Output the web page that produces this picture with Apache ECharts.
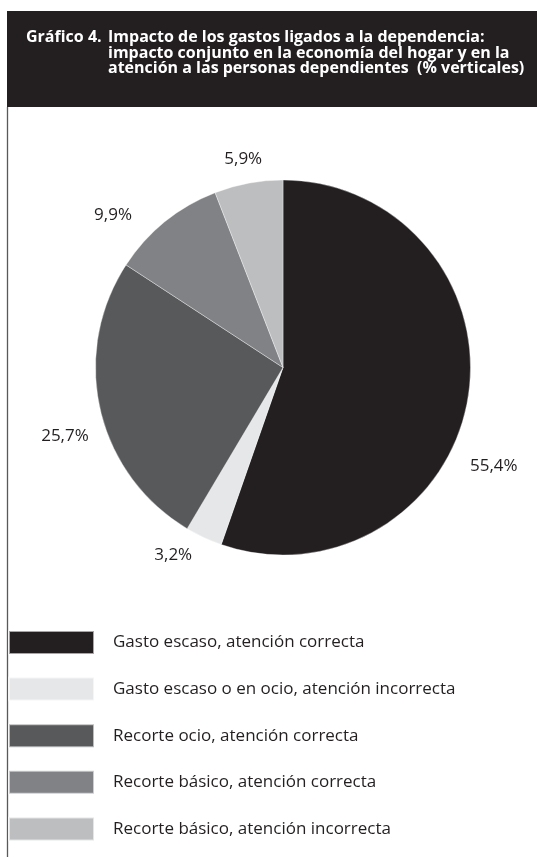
<!DOCTYPE html>
<html>
<head>
<meta charset="utf-8">
<script src="https://cdn.jsdelivr.net/npm/echarts@6/dist/echarts.min.js"></script>
<style>
  html, body { margin: 0; padding: 0; background: #ffffff; }
  #chart { width: 537px; height: 858px; }
</style>
</head>
<body>
<div id="chart"></div>
<script>
// Categories (clockwise from 12 o'clock) and their shares in %
const categories = [
  'Gasto escaso, atención correcta',
  'Gasto escaso o en ocio, atención incorrecta',
  'Recorte ocio, atención correcta',
  'Recorte básico, atención correcta',
  'Recorte básico, atención incorrecta'
];
const shares = [55.4, 3.2, 25.7, 9.9, 5.9];
const sliceColors = ['#231f20', '#e6e7e8', '#58595b', '#808285', '#bcbec0'];

const titleLead = 'Gráfico 4.';
const titleLines = [
  'Impacto de los gastos ligados a la dependencia:',
  'impacto conjunto en la economía del hogar y en la',
  'atención a las personas dependientes  (% verticales)'
];

// Small nudges [dx, dy] for the percentage labels around the pie
const labelNudges = [
  [-20.6, 64], [1, 1], [11, 22], [-16.6, 7], [22, -6.5]
];

const fmtPct = v => v.toFixed(1).replace('.', ',') + '%';

const chart = echarts.init(document.getElementById('chart'), null, { renderer: 'canvas' });

const titleFont = { color: '#ffffff', fontFamily: 'Open Sans', fontWeight: 'bold', fontSize: 16, lineHeight: 15.5 };

chart.setOption({
  backgroundColor: '#ffffff',
  animation: false,
  title: [
    { text: titleLead, left: 26, top: 30, padding: 0, textStyle: titleFont },
    { text: titleLines.join('\n'), left: 108, top: 30, padding: 0, textStyle: titleFont }
  ],
  graphic: [
    {
      type: 'rect', z: -1,
      shape: { x: 7, y: 11, width: 530, height: 96 },
      style: { fill: '#231f20' }
    },
    {
      type: 'line', z: -1,
      shape: { x1: 7.5, y1: 107, x2: 7.5, y2: 857 },
      style: { stroke: '#58595b', lineWidth: 1.3 }
    }
  ],
  legend: {
    orient: 'vertical',
    left: 8, top: 630, padding: 0,
    itemWidth: 85, itemHeight: 23, itemGap: 21.6,
    icon: 'rect',
    selectedMode: false,
    data: categories,
    textStyle: { color: '#231f20', fontFamily: 'Open Sans', fontSize: 17, padding: [0, 0, 0, 14] }
  },
  series: [
    {
      type: 'pie',
      center: [283, 367.5],
      radius: 187.5,
      startAngle: 90,
      clockwise: true,
      avoidLabelOverlap: false,
      itemStyle: { borderColor: 'rgba(255,255,255,0.6)', borderWidth: 0.6 },
      label: {
        show: true,
        position: 'outside',
        color: '#231f20',
        fontFamily: 'Open Sans',
        fontSize: 17,
        formatter: p => fmtPct(p.value)
      },
      labelLine: { show: false, length: 18, length2: 0 },
      labelLayout: p => ({ dx: labelNudges[p.dataIndex][0], dy: labelNudges[p.dataIndex][1] }),
      data: categories.map((name, i) => ({
        name: name,
        value: shares[i],
        itemStyle: { color: sliceColors[i] }
      }))
    }
  ]
});
</script>
</body>
</html>
